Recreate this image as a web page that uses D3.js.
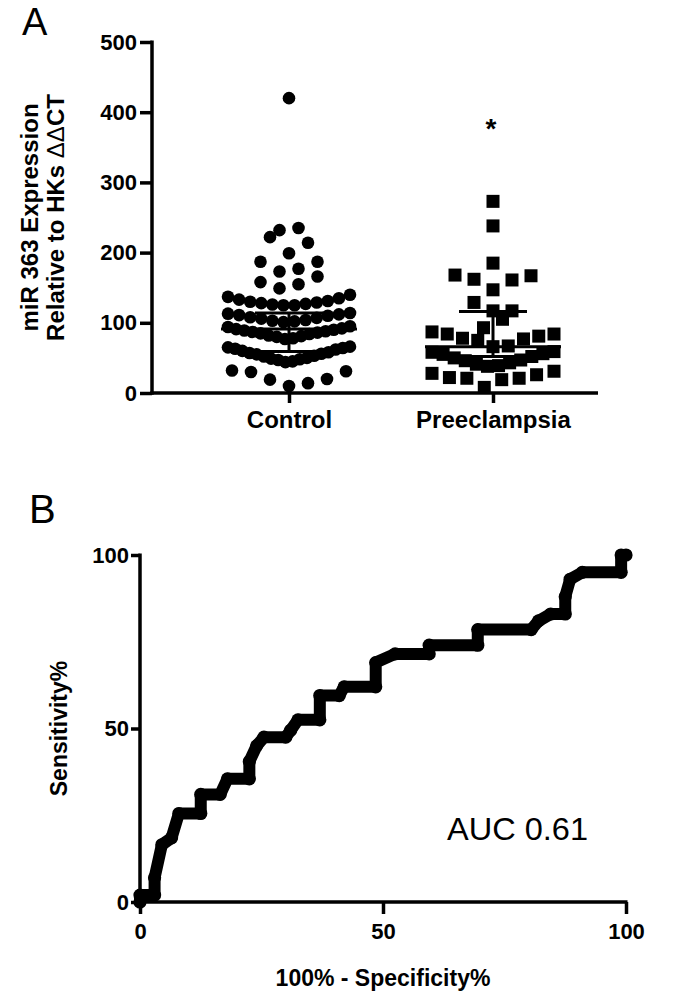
<!DOCTYPE html>
<html><head><meta charset="utf-8">
<script src="https://cdn.jsdelivr.net/npm/d3@7"></script>
<style>body{margin:0;background:#fff} svg{display:block}</style>
</head><body>
<script>
// ---------------- data ----------------
const categories = ["Control", "Preeclampsia"];
const controlValues = [
  420, 235, 232, 222, 214, 199, 187, 187, 177, 173, 166, 158, 155, 149,
  125, 125, 126, 127, 128, 129, 130, 131, 133, 135, 137, 140,
  101, 102, 103, 104, 106, 107, 108, 110, 111, 112, 113, 114,
  77, 78, 80, 81, 82, 84, 85, 86, 87, 88, 89, 90, 91, 92, 94, 95,
  44, 45, 47, 48, 49, 50, 52, 53, 55, 56, 57, 58, 60, 62, 63, 64, 65, 66,
  10, 14, 19, 20, 30, 31, 32
];
const preeclampsiaValues = [
  273, 238, 185, 168, 167, 162, 161, 147, 129, 117, 117, 105, 93,
  87, 84, 84, 81, 78, 77, 75, 67, 66,
  59, 58, 56, 55, 52, 50, 47, 46, 43, 41, 39, 38,
  31, 28, 26, 22, 21, 21, 19, 8
];
const medians = [91, 66];
const whiskerLow = [59, 52];
const whiskerHigh = [114, 116];
const yTicksA = [0, 100, 200, 300, 400, 500];

const rocFpr = [0, 0, 3, 3, 4.5, 6.5, 8, 12.5, 12.5, 16.5, 18, 22.5, 22.5, 24, 25.5, 30, 31, 32.5, 37, 37,
  41, 42, 48.5, 48.5, 52.5, 59.5, 59.5, 69.5, 69.5, 80.5, 82, 84.5, 87.5, 87.5, 88.5, 91, 99, 99, 100];
const rocTpr = [0, 2, 2, 7, 16.5, 18.5, 25.5, 25.5, 31, 31, 35.5, 35.5, 40.5, 45, 47.5, 47.5, 49.5, 52.5, 52.5, 59.5,
  59.5, 62, 62, 69, 71.5, 71.5, 74, 74, 78.5, 78.5, 81, 83, 83, 88, 93, 95, 95, 100, 100];
const rocTicks = [0, 50, 100];
const aucLabel = "AUC 0.61";

// ---------------- drawing ----------------
const W = 685, H = 1003;
const FONT = "'Liberation Sans', Arial, Helvetica, sans-serif";
const svg = d3.select("body").append("svg").attr("width", W).attr("height", H)
  .attr("font-family", FONT);

function styleAxis(g, size) {
  g.attr("font-family", FONT).attr("font-size", size).attr("font-weight", "bold");
  g.selectAll("path.domain").attr("stroke-width", 3.5).attr("stroke", "#000");
  g.selectAll(".tick line").attr("stroke-width", 3.5).attr("stroke", "#000");
  g.selectAll(".tick text").attr("fill", "#000");
}

// beeswarm-like row layout (GraphPad style)
function rowLayout(values, B, maxHalf, maxSpacing) {
  const sorted = values.slice().sort((a, b) => a - b);
  const rows = []; let cur = null;
  sorted.forEach(v => {
    if (!cur || v - cur.start > B) { cur = { start: v, items: [] }; rows.push(cur); }
    cur.items.push(v);
  });
  const out = [];
  rows.forEach(r => {
    const n = r.items.length;
    const s = n > 1 ? Math.min(maxSpacing, 2 * maxHalf / (n - 1)) : 0;
    r.items.forEach((v, i) => {
      let k;
      if (n % 2 === 1) k = i === 0 ? 0 : (i % 2 === 1 ? Math.ceil(i / 2) : -Math.ceil(i / 2));
      else { const m = Math.floor(i / 2) + 0.5; k = i % 2 === 0 ? -m : m; }
      out.push({ v, dx: k * s });
    });
  });
  return out;
}

// ===== Panel A =====
const yA = d3.scaleLinear().domain([0, 500]).range([393, 42]);
const xA = d3.scalePoint().domain(categories).range([289, 493]);
const axisAX0 = 152, axisAX1 = 598;

svg.append("text").attr("x", 22).attr("y", 35).attr("font-size", 38).text("A");

const gyA = svg.append("g").attr("transform", `translate(${axisAX0},0)`)
  .call(d3.axisLeft(yA).tickValues(yTicksA).tickSize(12).tickSizeOuter(0).tickPadding(3));
styleAxis(gyA, 22);
gyA.select("path.domain").remove();
svg.append("line").attr("x1", axisAX0).attr("x2", axisAX0).attr("y1", yA(500) - 1.5).attr("y2", yA(0) + 1.75)
  .attr("stroke", "#000").attr("stroke-width", 3.5);

const gxA = svg.append("g").attr("transform", `translate(0,${yA(0)})`)
  .call(d3.axisBottom(xA).tickSize(10).tickSizeOuter(0).tickPadding(8));
styleAxis(gxA, 24);
gxA.select("path.domain").remove();
svg.append("line").attr("x1", axisAX0 - 1.75).attr("x2", axisAX1).attr("y1", yA(0)).attr("y2", yA(0))
  .attr("stroke", "#000").attr("stroke-width", 3.5);

// y label panel A
svg.append("text").attr("transform", `translate(38,${(yA(0) + yA(500)) / 2}) rotate(-90)`)
  .attr("text-anchor", "middle").attr("font-size", 24).attr("font-weight", "bold")
  .text("miR 363 Expression");
const l2 = svg.append("text").attr("transform", `translate(64,${(yA(0) + yA(500)) / 2}) rotate(-90)`)
  .attr("text-anchor", "middle").attr("font-size", 24).attr("font-weight", "bold");
l2.append("tspan").text("Relative to HKs ");
l2.append("tspan").attr("font-weight", "normal").text("\u0394\u0394");
l2.append("tspan").text("CT");

// dots
const ctrl = rowLayout(controlValues, 23, 61, 19);
svg.append("g").selectAll("circle").data(ctrl).join("circle")
  .attr("cx", d => xA(categories[0]) + d.dx).attr("cy", d => yA(d.v)).attr("r", 6.3).attr("fill", "#000");
const pre = rowLayout(preeclampsiaValues, 23, 61, 19);
const sq = 13;
svg.append("g").selectAll("rect").data(pre).join("rect")
  .attr("x", d => xA(categories[1]) + d.dx - sq / 2).attr("y", d => yA(d.v) - sq / 2)
  .attr("width", sq).attr("height", sq).attr("fill", "#000");

// median + whiskers
categories.forEach((c, i) => {
  const cx = xA(c);
  const g = svg.append("g").attr("stroke", "#000").attr("stroke-width", 3);
  g.append("line").attr("x1", cx - 68).attr("x2", cx + 68).attr("y1", yA(medians[i])).attr("y2", yA(medians[i]));
  g.append("line").attr("x1", cx).attr("x2", cx).attr("y1", yA(whiskerLow[i])).attr("y2", yA(whiskerHigh[i]));
  g.append("line").attr("x1", cx - 34).attr("x2", cx + 34).attr("y1", yA(whiskerLow[i])).attr("y2", yA(whiskerLow[i]));
  g.append("line").attr("x1", cx - 34).attr("x2", cx + 34).attr("y1", yA(whiskerHigh[i])).attr("y2", yA(whiskerHigh[i]));
});

svg.append("text").attr("x", xA(categories[1]) - 2).attr("y", 138).attr("text-anchor", "middle")
  .attr("font-size", 28).attr("font-weight", "bold").text("*");

// ===== Panel B =====
const xB = d3.scaleLinear().domain([0, 100]).range([140, 626]);
const yB = d3.scaleLinear().domain([0, 100]).range([902, 555]);

svg.append("text").attr("x", 29).attr("y", 523).attr("font-size", 40).text("B");

const gyB = svg.append("g").attr("transform", `translate(${xB(0)},0)`)
  .call(d3.axisLeft(yB).tickValues(rocTicks).tickSize(9).tickSizeOuter(0).tickPadding(2));
styleAxis(gyB, 22);
gyB.select("path.domain").remove();
svg.append("line").attr("x1", xB(0)).attr("x2", xB(0)).attr("y1", yB(100) - 1.5).attr("y2", yB(0) + 1.75)
  .attr("stroke", "#000").attr("stroke-width", 3.5);

const gxB = svg.append("g").attr("transform", `translate(0,${yB(0)})`)
  .call(d3.axisBottom(xB).tickValues(rocTicks).tickSize(12).tickSizeOuter(0).tickPadding(9));
styleAxis(gxB, 22);
gxB.select("path.domain").remove();
svg.append("line").attr("x1", xB(0) - 1.75).attr("x2", xB(100) + 1.5).attr("y1", yB(0)).attr("y2", yB(0))
  .attr("stroke", "#000").attr("stroke-width", 3.5);

svg.append("text").attr("x", (xB(0) + xB(100)) / 2).attr("y", 986).attr("text-anchor", "middle")
  .attr("font-size", 23).attr("font-weight", "bold").text("100% - Specificity%");
svg.append("text").attr("transform", `translate(67,${(yB(0) + yB(100)) / 2}) rotate(-90)`)
  .attr("text-anchor", "middle").attr("font-size", 23).attr("font-weight", "bold").text("Sensitivity%");

// ROC curve
const rocPts = rocFpr.map((f, i) => [f, rocTpr[i]]);
svg.append("path").datum(rocPts)
  .attr("d", d3.line().x(d => xB(d[0])).y(d => yB(d[1])))
  .attr("fill", "none").attr("stroke", "#000").attr("stroke-width", 12)
  .attr("stroke-linejoin", "round").attr("stroke-linecap", "round");
svg.append("g").selectAll("circle").data(rocPts).join("circle")
  .attr("cx", d => xB(d[0])).attr("cy", d => yB(d[1])).attr("r", 6.6).attr("fill", "#000");

svg.append("text").attr("x", 447).attr("y", 840).attr("font-size", 32)
  .attr("textLength", 141).attr("lengthAdjust", "spacingAndGlyphs").text(aucLabel);
</script>
</body></html>
